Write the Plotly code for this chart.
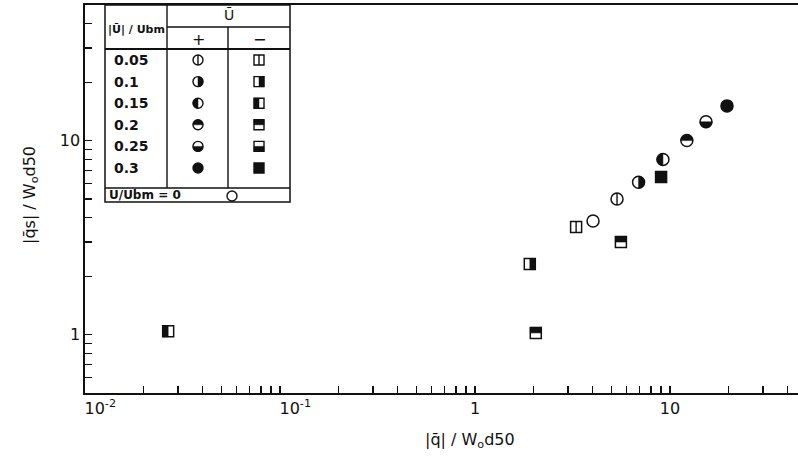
import plotly.graph_objects as go

# ---------------- data ----------------
U_LEVELS = ["0.05", "0.1", "0.15", "0.2", "0.25", "0.3"]
FILL_STYLE = ["bar", "right", "left", "top", "bottom", "full"]   # marker style per |U|/Ubm level

# U-bar positive (circles)
PLUS_LEVEL = ["0.05", "0.1", "0.15", "0.2", "0.25", "0.3"]
PLUS_Q = [5.35, 6.9, 9.2, 12.2, 15.3, 19.6]
PLUS_QS = [5.0, 6.1, 8.0, 10.0, 12.5, 15.1]

# U-bar negative (squares)
MINUS_LEVEL = ["0.05", "0.1", "0.15", "0.2", "0.2", "0.3"]
MINUS_Q = [3.3, 1.91, 0.0267, 5.6, 2.05, 9.0]
MINUS_QS = [3.59, 2.31, 1.04, 3.0, 1.02, 6.5]

# U/Ubm = 0 (open circle)
ZERO_Q = [4.03]
ZERO_QS = [3.85]

PAD = "\u00a0" * 6
X_TICK_VALS = [0.01, 0.1, 1, 10]
X_TICK_TEXT = [PAD + "10<sup>-2</sup>", PAD + "10<sup>-1</sup>", "1", "10"]
Y_TICK_VALS = [1, 10]
Y_TICK_TEXT = ["1", "10"]

X_TITLE = "|q̄| / W<sub>o</sub>d50"
Y_TITLE = "|q̄s| / W<sub>o</sub>d50"

# ---------------- layout constants ----------------
W, H = 798, 461
ML, MR, MT, MB = 85, 0, 5, 68
PW, PH = W - ML - MR, H - MT - MB
INK = "#111111"
FONT = "DejaVu Sans"


def px(xp):
    return (xp - ML) / PW


def py(yp):
    return (H - MB - yp) / PH


K = 0.5523


def fill_paths(style, kind, r):
    k = K * r
    if kind == "circle":
        p = {
            "right": f"M0,{r} C{k},{r} {r},{k} {r},0 C{r},{-k} {k},{-r} 0,{-r} Z",
            "left": f"M0,{r} C{-k},{r} {-r},{k} {-r},0 C{-r},{-k} {-k},{-r} 0,{-r} Z",
            "top": f"M{-r},0 C{-r},{k} {-k},{r} 0,{r} C{k},{r} {r},{k} {r},0 Z",
            "bottom": f"M{-r},0 C{-r},{-k} {-k},{-r} 0,{-r} C{k},{-r} {r},{-k} {r},0 Z",
        }
    else:
        p = {
            "right": f"M0,{r} L{r},{r} L{r},{-r} L0,{-r} Z",
            "left": f"M0,{r} L{-r},{r} L{-r},{-r} L0,{-r} Z",
            "top": f"M{-r},0 L{-r},{r} L{r},{r} L{r},0 Z",
            "bottom": f"M{-r},0 L{-r},{-r} L{r},{-r} L{r},0 Z",
        }
    return p.get(style)


def decor_shapes(style, kind, xref, yref, xa, ya, r):
    """Inner decoration (half fill / bisecting bar) anchored at (xa, ya)."""
    base = dict(xref=xref, yref=yref, xsizemode="pixel", ysizemode="pixel",
                xanchor=xa, yanchor=ya, layer="above")
    out = []
    if style == "bar":
        out.append(dict(type="path", path=f"M0,{r} L0,{-r}",
                        line=dict(color=INK, width=1.4), **base))
    elif style in ("right", "left", "top", "bottom"):
        out.append(dict(type="path", path=fill_paths(style, kind, r),
                        fillcolor=INK, line=dict(color=INK, width=0.5), **base))
    return out


def outline_shape(style, kind, xref, yref, xa, ya, r):
    base = dict(xref=xref, yref=yref, xsizemode="pixel", ysizemode="pixel",
                xanchor=xa, yanchor=ya, layer="above",
                x0=-r, x1=r, y0=-r, y1=r,
                line=dict(color=INK, width=1.4))
    fill = INK if style == "full" else "white"
    return dict(type="circle" if kind == "circle" else "rect", fillcolor=fill, **base)


style_of = dict(zip(U_LEVELS, FILL_STYLE))

fig = go.Figure()
shapes = []

R_CIRC = 6.0
R_SQ = 5.5


# ---- data traces ----
def add_series(qs, qss, levels, kind, name):
    symbols = []
    for lv in levels:
        symbols.append(kind if style_of[lv] == "full" else kind + "-open")
    fig.add_trace(go.Scatter(
        x=qs, y=qss, mode="markers", name=name, showlegend=False,
        marker=dict(symbol=symbols, size=2 * (R_CIRC if kind == "circle" else R_SQ),
                    color=INK, line=dict(color=INK, width=1.5)),
        cliponaxis=False))
    for q, s, lv in zip(qs, qss, levels):
        shapes.extend(decor_shapes(style_of[lv], kind, "x", "y", q, s,
                                   R_CIRC if kind == "circle" else R_SQ))


add_series(PLUS_Q, PLUS_QS, PLUS_LEVEL, "circle", "Ū +")
add_series(MINUS_Q, MINUS_QS, MINUS_LEVEL, "square", "Ū −")
fig.add_trace(go.Scatter(
    x=ZERO_Q, y=ZERO_QS, mode="markers", name="U/Ubm=0", showlegend=False,
    marker=dict(symbol="circle-open", size=2 * R_CIRC, color=INK,
                line=dict(color=INK, width=1.5)), cliponaxis=False))

# ---- legend table (drawn in paper coordinates) ----
TB_L, TB_R, TB_T, TB_B = 105, 290, 5, 202
COL1, COL2 = 167, 228
ROW_HDR1, ROW_HDR2, ROW_LAST = 27, 49, 188
ROW0, ROW_STEP = 60, 21.6
PLUS_X, MINUS_X = 198, 259


def hline(y, x0, x1, w=1.4):
    shapes.append(dict(type="line", xref="paper", yref="paper",
                       x0=px(x0), x1=px(x1), y0=py(y), y1=py(y),
                       line=dict(color=INK, width=w)))


def vline(x, y0, y1, w=1.4):
    shapes.append(dict(type="line", xref="paper", yref="paper",
                       x0=px(x), x1=px(x), y0=py(y0), y1=py(y1),
                       line=dict(color=INK, width=w)))


shapes.append(dict(type="rect", xref="paper", yref="paper",
                   x0=px(TB_L), x1=px(TB_R), y0=py(TB_B), y1=py(TB_T),
                   fillcolor="white", line=dict(color=INK, width=1.5), layer="above"))
hline(ROW_HDR1, COL1, TB_R)
hline(ROW_HDR2, TB_L, TB_R, 2.2)
hline(ROW_LAST, TB_L, TB_R)
vline(COL1, TB_T, ROW_LAST)
vline(COL2, ROW_HDR1, ROW_LAST)

annots = []


def txt(x, y, s, size=13, anchor="center", **kw):
    annots.append(dict(xref="paper", yref="paper", x=px(x), y=py(y), text=s,
                       showarrow=False, xanchor=anchor, yanchor="middle",
                       font=dict(family=FONT, size=size, color=INK), **kw))


txt(106, 30, "<b>|Ū| / Ubm</b>", 11, "left")
txt((COL1 + TB_R) / 2, 15, "Ū", 14)
txt(PLUS_X, 39, "+", 16)
txt(MINUS_X, 39, "−", 16)
for i, lv in enumerate(U_LEVELS):
    yrow = ROW0 + i * ROW_STEP
    txt(112, yrow, "<b>" + lv + "</b>", 14, "left")
    st = FILL_STYLE[i]
    shapes.append(outline_shape(st, "circle", "paper", "paper", px(PLUS_X), py(yrow), 5))
    shapes.extend(decor_shapes(st, "circle", "paper", "paper", px(PLUS_X), py(yrow), 5))
    shapes.append(outline_shape(st, "square", "paper", "paper", px(MINUS_X), py(yrow), 5))
    shapes.extend(decor_shapes(st, "square", "paper", "paper", px(MINUS_X), py(yrow), 5))
txt(107, 195, "<b>U/Ubm = 0</b>", 12, "left")
shapes.append(outline_shape("open", "circle", "paper", "paper", px(232), py(196), 5))

# axis titles
annots.append(dict(xref="paper", yref="paper", x=px(470), y=0, yshift=-47,
                   text=X_TITLE, showarrow=False, xanchor="center", yanchor="middle",
                   font=dict(family=FONT, size=16, color=INK)))
annots.append(dict(xref="paper", yref="paper", x=0, xshift=-55, y=py(195),
                   text=Y_TITLE, showarrow=False, textangle=-90,
                   xanchor="center", yanchor="middle",
                   font=dict(family=FONT, size=16, color=INK)))

# ---- minor tick positions (2..9 of each decade) ----
x_minor = [m * d for d in X_TICK_VALS for m in range(2, 10) if m * d <= 45]
y_minor = [m * d for d in [0.1] + Y_TICK_VALS for m in range(2, 10) if 0.5 <= m * d <= 50.001]

axis_common = dict(type="log", ticks="inside", ticklen=7, tickwidth=1.3, tickcolor=INK,
                   showline=True, linecolor=INK, linewidth=1.6,
                   showgrid=False, zeroline=False,
                   tickfont=dict(family=FONT, size=16, color=INK))

fig.update_layout(
    width=W, height=H,
    margin=dict(l=ML, r=MR, t=MT, b=MB),
    paper_bgcolor="white", plot_bgcolor="white",
    showlegend=False, hovermode=False,
    shapes=shapes, annotations=annots,
    xaxis=dict(range=[-2, -2 + PW / 195.0], tickmode="array",
               tickvals=X_TICK_VALS, ticktext=X_TICK_TEXT, mirror=True,
               minor=dict(tickmode="array", tickvals=x_minor, ticks="inside",
                          ticklen=7, tickwidth=1.3, tickcolor=INK, showgrid=False),
               **axis_common),
    yaxis=dict(range=[-0.30103, 1.69897], tickmode="array",
               tickvals=Y_TICK_VALS, ticktext=Y_TICK_TEXT, mirror=False,
               minor=dict(tickmode="array", tickvals=y_minor, ticks="inside",
                          ticklen=7, tickwidth=1.3, tickcolor=INK, showgrid=False),
               **axis_common),
)

fig.write_html("out.html",
               config={"displayModeBar": False, "staticPlot": True},
               post_script="document.body.style.margin='0';document.body.style.overflow='hidden';")
